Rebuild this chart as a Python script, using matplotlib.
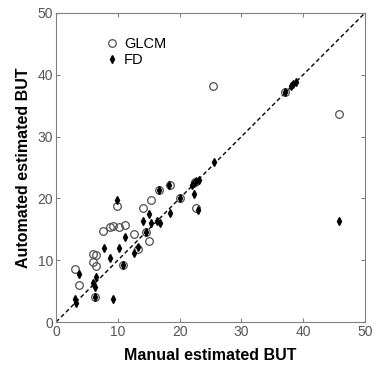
import matplotlib
matplotlib.use("Agg")
import matplotlib.pyplot as plt

# GLCM (open circles)
glcm_x = [3.0, 3.7, 6.0, 6.5, 6.0, 6.4, 7.6, 8.8, 9.2, 10.1, 11.2, 9.9, 12.6, 13.3,
          15.1, 14.1, 15.3, 18.4, 22.6, 25.4, 45.8, 6.3, 10.8, 14.5, 16.7, 20.1, 22.5, 37.1]
glcm_y = [8.6, 6.0, 11.0, 10.8, 9.7, 9.0, 14.8, 15.3, 15.5, 15.3, 15.7, 18.8, 14.3, 11.8,
          13.1, 18.5, 19.7, 22.1, 18.5, 38.2, 33.6, 4.0, 9.3, 14.6, 21.4, 20.1, 22.6, 37.2]

# FD (filled diamonds)
fd_x = [3.7, 3.1, 3.2, 6.3, 6.3, 6.5, 6.0, 7.7, 8.8, 9.2, 10.1, 9.9, 10.8, 11.2, 12.6,
        13.2, 14.1, 14.5, 15.1, 15.4, 16.4, 16.8, 16.7, 18.2, 18.4, 20.1, 22.3, 22.9,
        22.0, 22.4, 22.7, 23.1, 25.5, 37.1, 38.0, 38.4, 38.8, 45.8]
fd_y = [7.7, 3.8, 3.0, 4.0, 5.7, 7.3, 6.3, 12.0, 10.4, 3.8, 12.0, 19.7, 9.3, 13.7, 11.2,
        12.2, 16.3, 14.6, 17.4, 16.0, 16.3, 16.0, 21.4, 22.2, 17.7, 20.1, 20.7, 18.1,
        22.2, 22.5, 22.8, 23.0, 25.8, 37.2, 38.1, 38.5, 38.8, 16.3]

ticks = [0, 10, 20, 30, 40, 50]

plt.rcParams['font.family'] = ['Liberation Sans', 'DejaVu Sans']

fig = plt.figure(figsize=(3.74, 3.68), dpi=100)
ax = fig.add_axes([0.150, 0.125, 0.826, 0.840])

ax.plot([0, 50], [0, 50], linestyle=(0, (3, 2)), color='black', linewidth=1.0, zorder=1)
ax.plot(glcm_x, glcm_y, linestyle='none', marker='o', markersize=5.5,
        markerfacecolor='none', markeredgecolor='#505050', markeredgewidth=0.9,
        label='GLCM', zorder=2)
ax.plot(fd_x, fd_y, linestyle='none', marker='d', markersize=4,
        markerfacecolor='black', markeredgecolor='black', label='FD', zorder=3)

ax.set_xlim(0, 50)
ax.set_ylim(0, 50)
ax.set_xticks(ticks)
ax.set_yticks(ticks)
ax.tick_params(direction='in', length=3, width=0.8, colors='#808080',
               labelcolor='#555555', labelsize=10, top=True, right=True, pad=2)
for s in ax.spines.values():
    s.set_color('#808080')
    s.set_linewidth(0.8)

ax.set_xlabel('Manual estimated BUT', fontsize=11.5, fontweight='bold', labelpad=7)
ax.set_ylabel('Automated estimated BUT', fontsize=11.5, fontweight='bold', labelpad=5)

ax.legend(loc='upper left', bbox_to_anchor=(0.13, 0.955), frameon=False,
          fontsize=10.5, handlelength=0.8, handletextpad=0.4, borderpad=0.2,
          labelspacing=0.15)

fig.savefig('out.png', dpi=100)
